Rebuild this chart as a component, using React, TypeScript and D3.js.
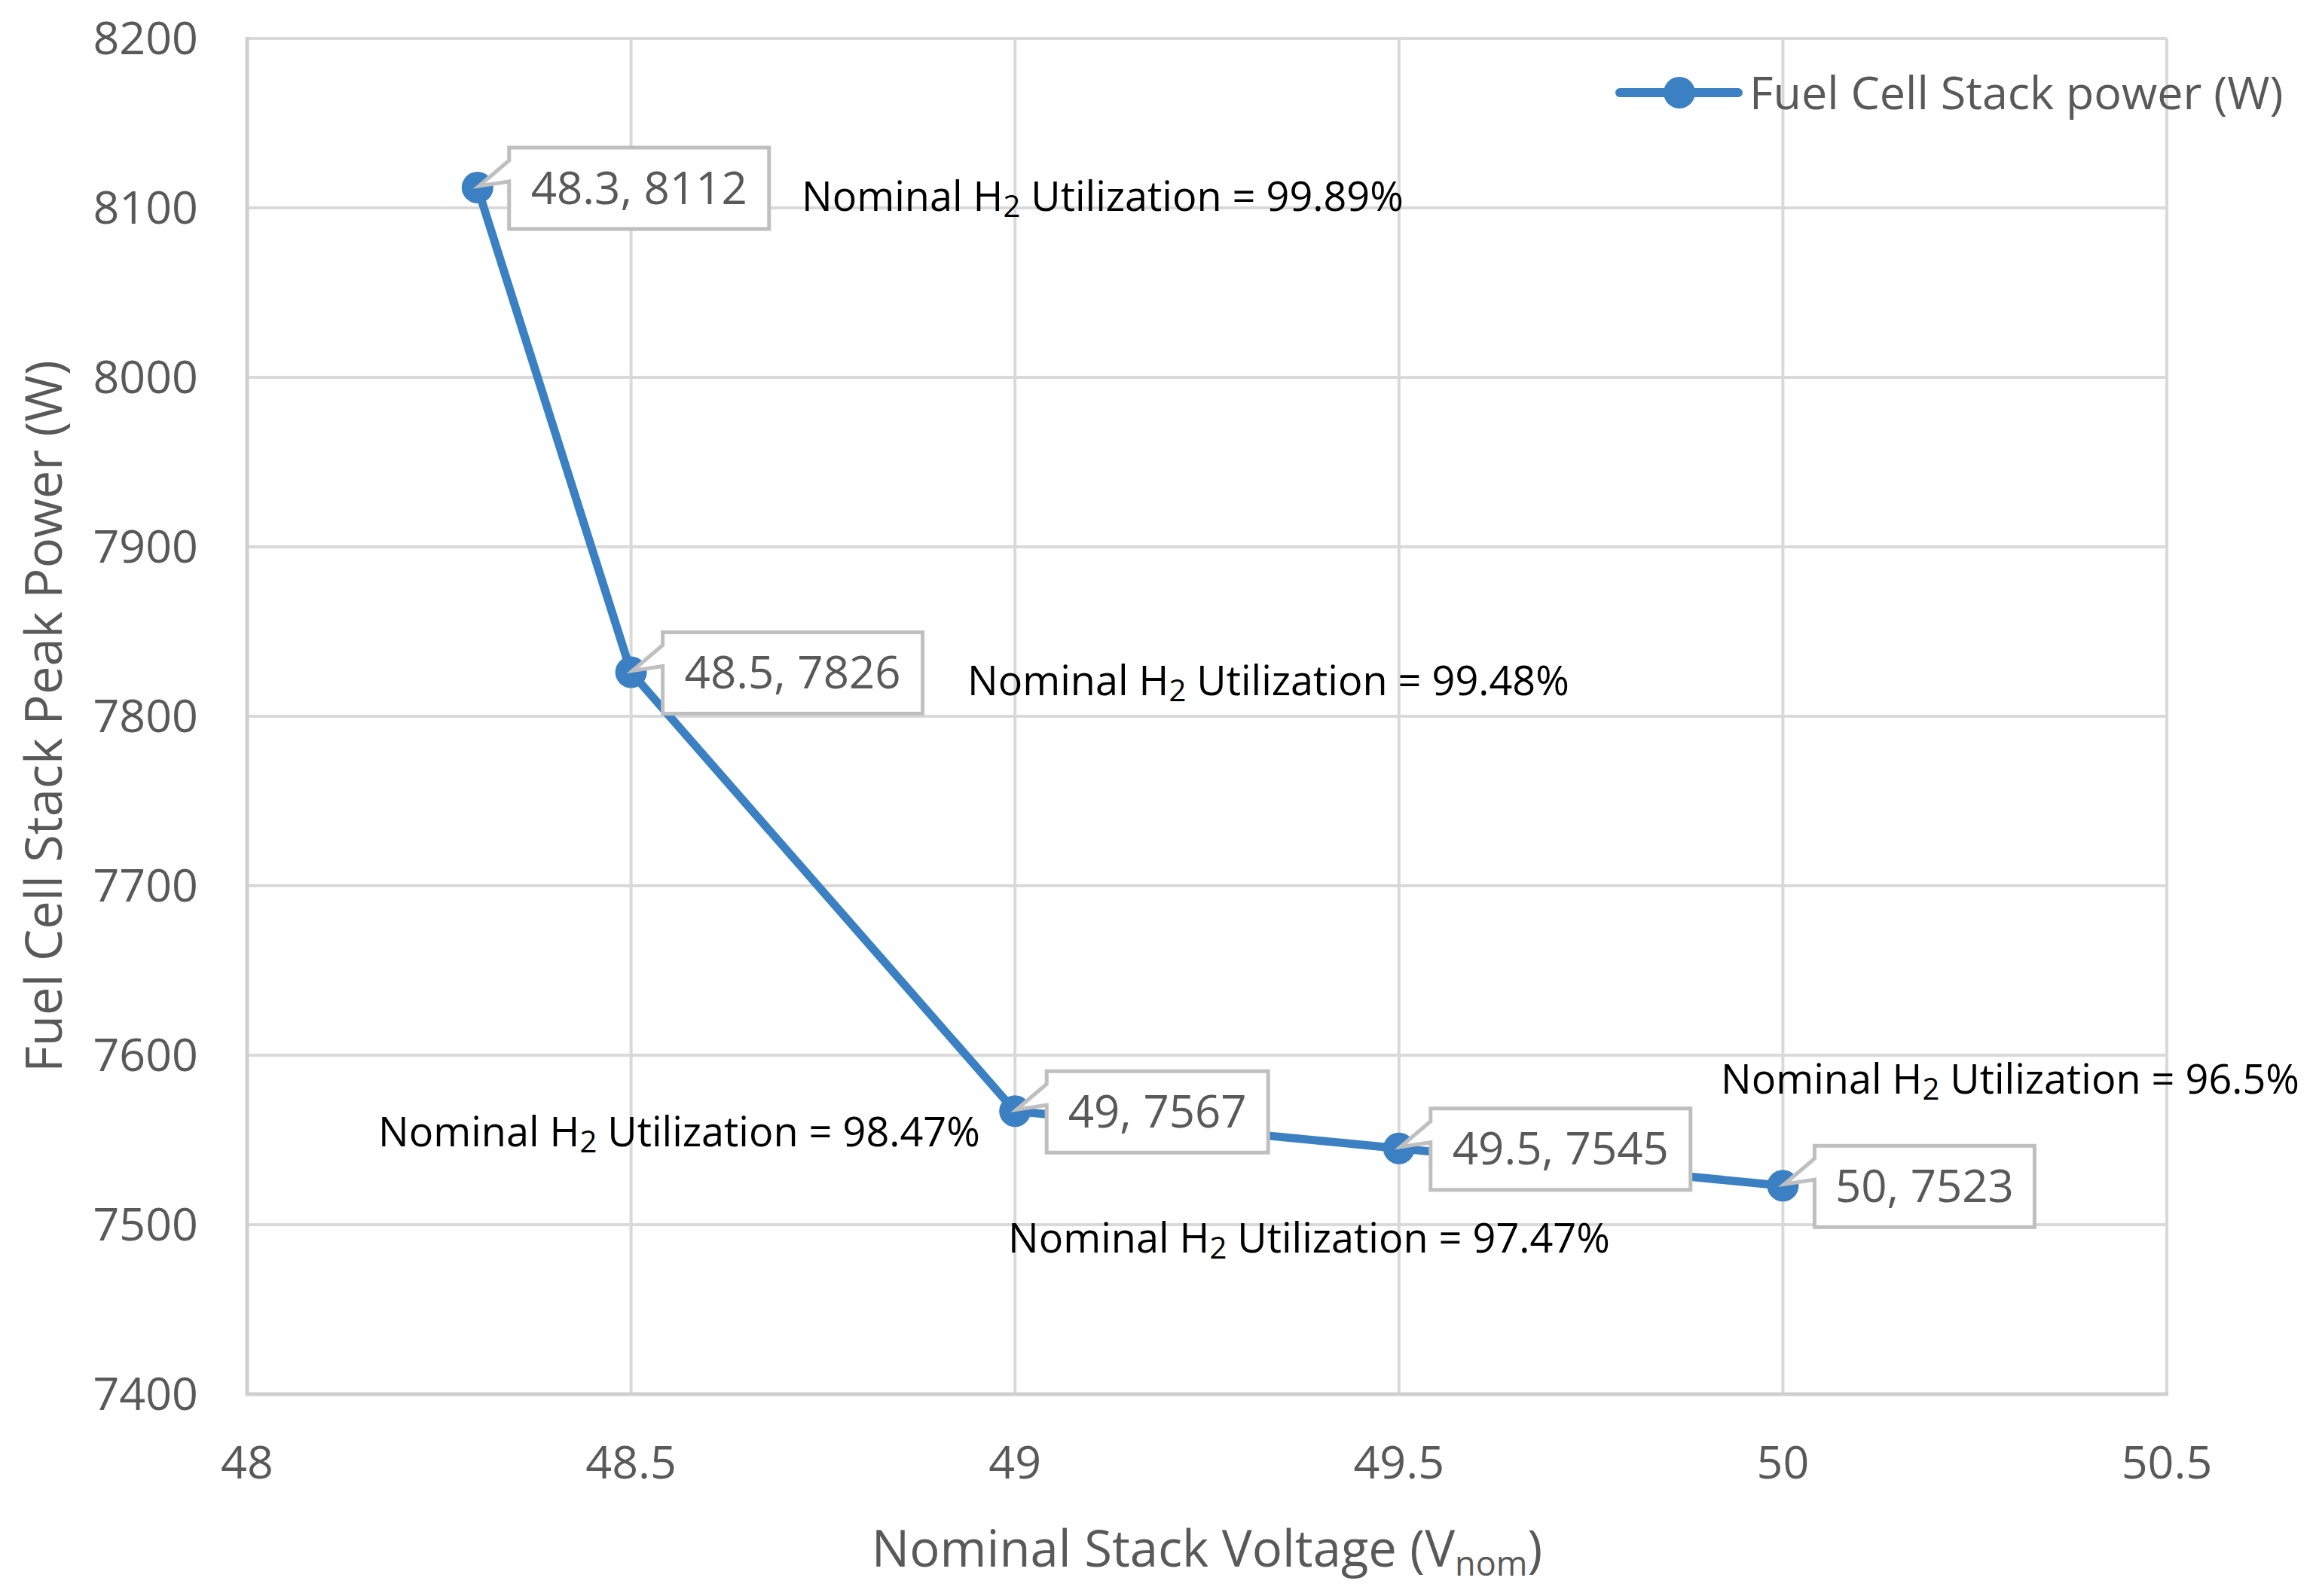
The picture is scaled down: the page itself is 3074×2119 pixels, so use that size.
import React from "react";
import * as d3 from "d3";

const voltages = [48.3, 48.5, 49, 49.5, 50];
const powers = [8112, 7826, 7567, 7545, 7523];
const xTicks = [48, 48.5, 49, 49.5, 50, 50.5];
const yTicks = [7400, 7500, 7600, 7700, 7800, 7900, 8000, 8100, 8200];
const labelWidths = [345, 345, 294, 345, 292];

const annotations = [
  { pct: "99.89%", x: 1064, y: 280 },
  { pct: "99.48%", x: 1284, y: 923 },
  { pct: "98.47%", x: 502, y: 1522 },
  { pct: "97.47%", x: 1338, y: 1663 },
  { pct: "96.5%", x: 2284, y: 1452 },
];

const W = 3074;
const H = 2119;
const BLUE = "#3a80c2";
const GRID = "#d9d9d9";
const TXT = "#595959";
const FONT = "'Open Sans', sans-serif";

export default function App() {
  const x = d3.scaleLinear().domain([48, 50.5]).range([328, 2876]);
  const y = d3.scaleLinear().domain([7400, 8200]).range([1851, 51]);
  const pts = voltages.map((v, i) => [x(v), y(powers[i])] as [number, number]);
  const line = d3.line()(pts) || "";
  const fmt = d3.format("");

  return (
    <svg width={W} height={H} style={{ position: "absolute", left: 0, top: 0, background: "#fff" }} fontFamily={FONT}>
      <rect width={W} height={H} fill="#fff" />
      {/* grid */}
      {yTicks.map((t) => (
        <line key={"gy" + t} x1={x(48)} x2={x(50.5)} y1={y(t)} y2={y(t)} stroke={GRID} strokeWidth={4} />
      ))}
      {xTicks.map((t) => (
        <line key={"gx" + t} x1={x(t)} x2={x(t)} y1={y(8200)} y2={y(7400)} stroke={GRID} strokeWidth={4} />
      ))}
      {/* axes */}
      <line x1={x(48)} x2={x(48)} y1={y(8200) - 2} y2={y(7400) + 2} stroke="#cfcfcf" strokeWidth={5} />
      <line x1={x(48) - 2} x2={x(50.5) + 2} y1={y(7400)} y2={y(7400)} stroke="#cfcfcf" strokeWidth={5} />
      {/* tick labels */}
      {yTicks.map((t) => (
        <text key={"ty" + t} x={263} y={y(t)} dy="0.35em" textAnchor="end" fontSize={61} fill={TXT}>
          {fmt(t)}
        </text>
      ))}
      {xTicks.map((t) => (
        <text key={"tx" + t} x={x(t)} y={1963} textAnchor="middle" fontSize={61} fill={TXT}>
          {fmt(t)}
        </text>
      ))}
      {/* axis titles */}
      <text x={(x(48) + x(50.5)) / 2} y={2080} textAnchor="middle" fontSize={67} fill={TXT}>
        Nominal Stack Voltage (V
        <tspan fontSize={45} dy={12}>nom</tspan>
        <tspan dy={-12}>)</tspan>
      </text>
      <text
        transform={`translate(82,${(y(8200) + y(7400)) / 2}) rotate(-90)`}
        textAnchor="middle"
        fontSize={67}
        fill={TXT}
      >
        Fuel Cell Stack Peak Power (W)
      </text>
      {/* series */}
      <path d={line} fill="none" stroke={BLUE} strokeWidth={11} strokeLinejoin="round" />
      {pts.map(([px, py], i) => (
        <circle key={"m" + i} cx={px} cy={py} r={21} fill={BLUE} />
      ))}
      {/* data labels */}
      {pts.map(([px, py], i) => {
        const bx = px + 42;
        const by = py - 53;
        const w = labelWidths[i];
        const h = 108;
        const d = `M${bx},${by} H${bx + w} V${by + h} H${bx} V${by + 45} L${px + 2},${py - 2} L${bx},${by + 17} Z`;
        return (
          <g key={"l" + i}>
            <path d={d} fill="#fff" stroke="#bfbfbf" strokeWidth={5} strokeLinejoin="miter" />
            <text x={bx + w / 2} y={py} dy="0.36em" textAnchor="middle" fontSize={60} fill={TXT}>
              {`${voltages[i]}, ${powers[i]}`}
            </text>
          </g>
        );
      })}
      {/* annotations */}
      {annotations.map((a, i) => (
        <text key={"a" + i} x={a.x} y={a.y} fontSize={54} fill="#000">
          Nominal H
          <tspan fontSize={40} dy={8}>2</tspan>
          <tspan dy={-8}>{` Utilization = ${a.pct}`}</tspan>
        </text>
      ))}
      {/* legend */}
      <line x1={2150} x2={2307} y1={123} y2={123} stroke={BLUE} strokeWidth={12} strokeLinecap="round" />
      <circle cx={2229} cy={123} r={21} fill={BLUE} />
      <text x={2322} y={123} dy="0.36em" fontSize={61} fill={TXT}>
        Fuel Cell Stack power (W)
      </text>
    </svg>
  );
}
